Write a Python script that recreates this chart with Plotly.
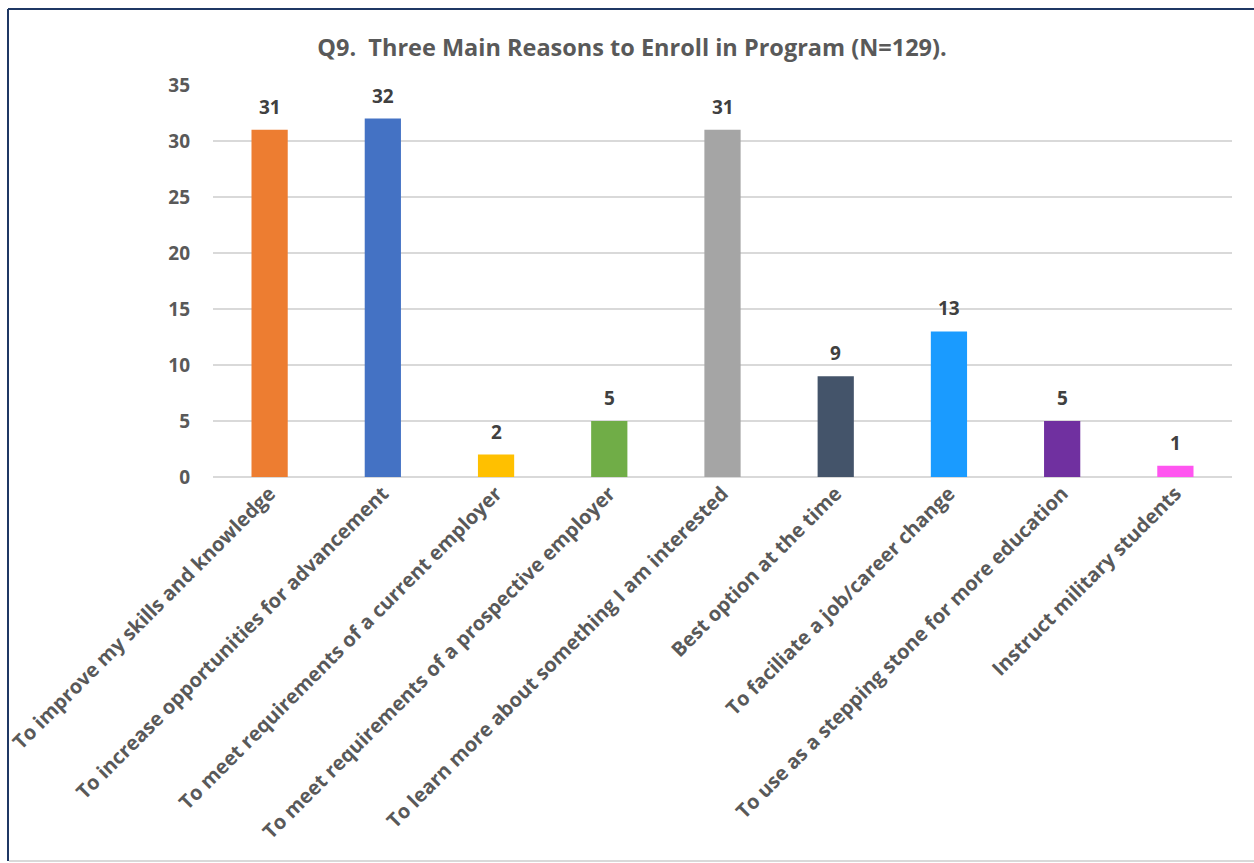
import plotly.graph_objects as go

categories = [
    "To improve my skills and knowledge",
    "To increase opportunities for advancement",
    "To meet requirements of a current employer",
    "To meet requirements of a prospective employer",
    "To learn more about something I am interested",
    "Best option at the time",
    "To faciliate a job/career change",
    "To use as a stepping stone for more education",
    "Instruct military students",
]
values = [31, 32, 2, 5, 31, 9, 13, 5, 1]
colors = ["#ED7D31", "#4472C4", "#FFC000", "#70AD47", "#A5A5A5",
          "#44546A", "#1A9BFF", "#7030A0", "#FF55F0"]
y_ticks = [0, 5, 10, 15, 20, 25, 30, 35]

W, H = 1254, 863
L, R, T, B = 213, 22, 85, 386
pw, ph = W - L - R, H - T - B

def px(x):
    return (x - L) / pw

def py(y):
    return (H - B - y) / ph

fig = go.Figure(go.Bar(
    x=categories, y=values,
    marker=dict(color=colors, line=dict(width=0)),
    width=0.32,
))

for c, v in zip(categories, values):
    fig.add_annotation(x=c, y=v, text=str(v), showarrow=False,
                       yanchor="bottom", yshift=8,
                       font=dict(family="Open Sans", size=19, color="#404040", weight="bold"))

fig.update_layout(
    width=W, height=H,
    margin=dict(l=L, r=R, t=T, b=B, autoexpand=False),
    paper_bgcolor="white", plot_bgcolor="white",
    showlegend=False,
    title=dict(text="Q9.  Three Main Reasons to Enroll in Program (N=129).",
               x=632 / W, xanchor="center", y=1 - 48 / H, yanchor="middle",
               font=dict(family="Open Sans", size=23.5, color="#595959", weight="bold")),
    xaxis=dict(tickangle=-45, showline=False, ticks="",
               tickfont=dict(family="Open Sans", size=20, color="#595959", weight="bold")),
    yaxis=dict(range=[0, 35], tickvals=y_ticks, showgrid=True, gridcolor="#D9D9D9",
               gridwidth=1.5, zeroline=True, zerolinecolor="#D9D9D9", zerolinewidth=1.5,
               ticks="", ticklabelstandoff=22,
               tickfont=dict(family="Open Sans", size=19, color="#595959", weight="bold")),
    shapes=[
        dict(type="line", xref="paper", yref="paper", x0=px(8), x1=px(8), y0=py(9), y1=py(861),
             line=dict(color="#1F3864", width=2)),
        dict(type="line", xref="paper", yref="paper", x0=px(8), x1=px(1254), y0=py(9), y1=py(9),
             line=dict(color="#1F3864", width=2)),
        dict(type="line", xref="paper", yref="paper", x0=px(9), x1=px(1254), y0=py(861), y1=py(861),
             line=dict(color="#D9D9D9", width=2)),
    ],
)

fig.write_html("out.html")
